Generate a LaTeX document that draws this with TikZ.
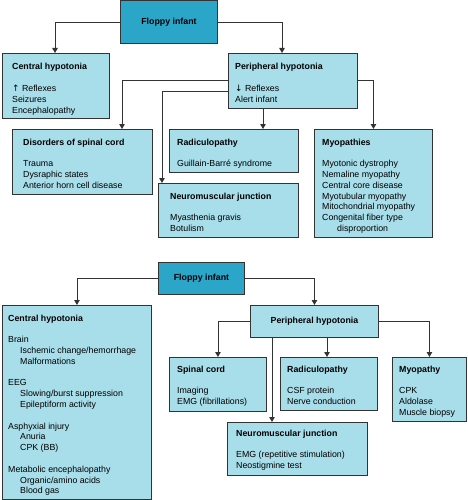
\documentclass[tikz,border=0pt]{standalone}
\usepackage{fontspec}
\setmainfont{Liberation Sans}
\newfontfamily\arrowfont{DejaVu Sans}
\usetikzlibrary{arrows.meta}
\definecolor{darkbox}{HTML}{2BA6C9}
\definecolor{lightbox}{HTML}{A8DDEA}
\definecolor{linecol}{HTML}{333333}
\newcommand\items[1]{{\fontsize{8.8}{10.8}\selectfont\begin{tabular}[t]{@{}l@{}}#1\end{tabular}}}
\newcommand\ind{\hspace*{12pt}}
\begin{document}
\begin{tikzpicture}[x=1pt,y=-1pt,
  font=\fontsize{8.8}{10.8}\selectfont,
  boxl/.style={draw=linecol, line width=0.9pt, fill=lightbox, anchor=north west, inner sep=0pt},
  boxd/.style={draw=linecol, line width=0.9pt, fill=darkbox, anchor=north west, inner sep=0pt, font=\fontsize{8.8}{10.8}\selectfont\bfseries},
  boxt/.style={boxl, font=\fontsize{8.8}{10.8}\selectfont\bfseries},
  txt/.style={anchor=base west, inner sep=0pt},
  arr/.style={draw=linecol, line width=0.9pt, -{Triangle[width=5.5pt,length=5pt]}}]
\useasboundingbox (0,0) rectangle (467,500);

% ---------- top diagram ----------
\node[boxd, minimum width=97pt, minimum height=42.5pt] (F1) at (120,0.5) {Floppy infant};
\node[boxl, minimum width=107pt, minimum height=65pt] (C1) at (2,53) {};
\node[boxl, minimum width=129pt, minimum height=55pt] (P1) at (228,53) {};
\node[boxl, minimum width=140pt, minimum height=65pt] (D1) at (12,129) {};
\node[boxl, minimum width=129pt, minimum height=43pt] (R1) at (169,129) {};
\node[boxl, minimum width=140pt, minimum height=54pt] (N1) at (158,183) {};
\node[boxl, minimum width=118pt, minimum height=108pt] (M1) at (314,129) {};

\node[txt] (tC1) at (12,70) {\items{\textbf{Central hypotonia}\\ \\ {\arrowfont ↑} Reflexes\\ Seizures\\ Encephalopathy}};
\node[txt] (tP1) at (235,70) {\items{\textbf{Peripheral hypotonia}\\ \\ {\arrowfont ↓} Reflexes\\ Alert infant}};
\node[txt] (tD1) at (23,145) {\items{\textbf{Disorders of spinal cord}\\ \\ Trauma\\ Dysraphic states\\ Anterior horn cell disease}};
\node[txt] (tR1) at (177,145) {\items{\textbf{Radiculopathy}\\ \\ Guillain-Barré syndrome}};
\node[txt] (tN1) at (170,199) {\items{\textbf{Neuromuscular junction}\\ \\ Myasthenia gravis\\ Botulism}};
\node[txt] (tM1) at (322,145) {\items{\textbf{Myopathies}\\ \\ Myotonic dystrophy\\ Nemaline myopathy\\ Central core disease\\ Myotubular myopathy\\ Mitochondrial myopathy\\ Congenital fiber type\\ \hspace*{15pt}disproportion}};

\draw[arr] (F1.west) -| (C1.north -| 55,0);
\draw[arr] (F1.east) -| (P1.north -| 282,0);
\draw[arr] (P1.west) -| (D1.north -| 122,0);
\draw[arr] (P1.west |- 0,91) -| (N1.north -| 162,0);
\draw[arr] (P1.south -| 263,0) -- (R1.north -| 263,0);
\draw[arr] (P1.east) -| (M1.north);

% ---------- bottom diagram ----------
\node[boxd, minimum width=86pt, minimum height=32pt] (F2) at (158,262) {Floppy infant};
\node[boxl, minimum width=149pt, minimum height=193.5pt] (C2) at (2,305) {};
\node[boxt, minimum width=128pt, minimum height=32pt] (P2) at (250,305) {Peripheral hypotonia};
\node[boxl, minimum width=97pt, minimum height=54pt] (S2) at (169,357) {};
\node[boxl, minimum width=97pt, minimum height=53pt] (R2) at (280,357) {};
\node[boxl, minimum width=74pt, minimum height=64pt] (M2) at (392,357) {};
\node[boxl, minimum width=140pt, minimum height=53pt] (N2) at (227,422) {};

\node[txt] (tC2) at (8,321) {\items{\textbf{Central hypotonia}\\ \\ Brain\\ \ind Ischemic change/hemorrhage\\ \ind Malformations\\ \\ EEG\\ \ind Slowing/burst suppression\\ \ind Epileptiform activity\\ \\ Asphyxial injury\\ \ind Anuria\\ \ind CPK (BB)\\ \\ Metabolic encephalopathy\\ \ind Organic/amino acids\\ \ind Blood gas}};
\node[txt] (tS2) at (177,372) {\items{\textbf{Spinal cord}\\ \\ Imaging\\ EMG (fibrillations)}};
\node[txt] (tR2) at (287,372) {\items{\textbf{Radiculopathy}\\ \\ CSF protein\\ Nerve conduction}};
\node[txt] (tM2) at (399,372) {\items{\textbf{Myopathy}\\ \\ CPK\\ Aldolase\\ Muscle biopsy}};
\node[txt] (tN2) at (236,436) {\items{\textbf{Neuromuscular junction}\\ \\ EMG (repetitive stimulation)\\ Neostigmine test}};

\draw[arr] (F2.west) -| (C2.north);
\draw[arr] (F2.east) -| (P2.north);
\draw[arr] (P2.west) -| (S2.north);
\draw[arr] (P2.east) -| (M2.north);
\draw[arr] (P2.south -| 327,0) -- (R2.north -| 327,0);
\draw[arr] (P2.south -| 272,0) -- (N2.north -| 272,0);
\end{tikzpicture}
\end{document}
